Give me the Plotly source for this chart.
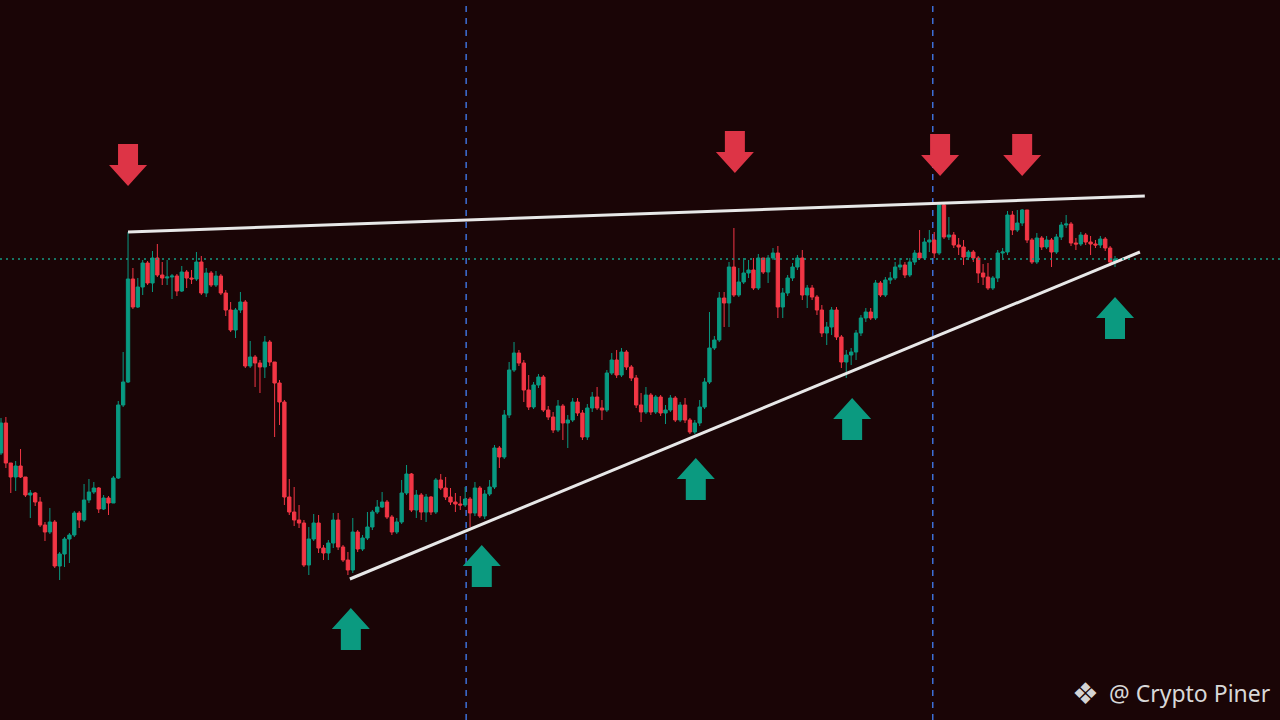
import plotly.graph_objects as go

# price units: arbitrary chart units (higher = up)
first_open = 267
closes = [
    297, 257, 243, 254, 243, 225, 227, 218, 195, 188,
    198, 154, 166, 181, 185, 207, 200, 220, 228, 232,
    211, 222, 217, 242, 315, 338, 441, 413, 433, 457,
    437, 462, 445, 442, 443, 444, 429, 448, 442, 441,
    458, 427, 447, 435, 444, 427, 410, 390, 410, 418,
    354, 363, 357, 353, 378, 358, 337, 318, 223, 208,
    200, 197, 155, 181, 197, 172, 167, 177, 200, 173,
    160, 150, 188, 171, 182, 193, 208, 213, 218, 203,
    188, 198, 227, 246, 210, 225, 208, 223, 208, 240,
    232, 223, 218, 216, 215, 221, 207, 232, 204, 226,
    233, 272, 263, 305, 350, 367, 357, 330, 313, 335,
    343, 310, 303, 290, 314, 297, 300, 318, 307, 283,
    312, 323, 312, 310, 347, 360, 345, 368, 353, 342,
    315, 308, 325, 308, 323, 307, 310, 322, 300, 315,
    300, 288, 297, 313, 338, 372, 380, 422, 417, 453,
    425, 438, 447, 450, 432, 462, 448, 462, 467, 413,
    427, 442, 453, 462, 425, 432, 423, 410, 387, 393,
    410, 383, 358, 365, 368, 387, 402, 408, 402, 437,
    425, 440, 442, 453, 455, 445, 458, 467, 462, 478,
    480, 467, 515, 483, 485, 475, 473, 463, 468, 462,
    447, 443, 432, 442, 467, 468, 505, 490, 497, 510,
    480, 458, 482, 473, 480, 468, 483, 495, 496, 477,
    476, 485, 478, 476, 475, 481, 472, 458, 461,
]
highs = [
    302, 303, 257, 259, 271, 243, 230, 228, 223, 198,
    212, 200, 168, 183, 187, 209, 209, 236, 241, 238,
    233, 225, 224, 244, 319, 368, 488, 452, 442, 460,
    459, 469, 476, 458, 460, 446, 446, 454, 450, 450,
    468, 464, 452, 449, 449, 446, 430, 418, 412, 428,
    420, 379, 365, 360, 384, 380, 357, 340, 320, 241,
    233, 215, 200, 193, 206, 205, 175, 180, 207, 207,
    175, 168, 202, 190, 185, 208, 210, 220, 228, 220,
    205, 202, 240, 255, 247, 230, 227, 226, 224, 242,
    246, 243, 232, 227, 224, 233, 223, 238, 234, 230,
    240, 275, 274, 310, 358, 378, 370, 360, 345, 338,
    346, 345, 314, 308, 320, 316, 305, 322, 322, 310,
    316, 328, 333, 320, 350, 367, 370, 372, 370, 355,
    345, 327, 333, 327, 325, 325, 315, 325, 324, 318,
    322, 302, 300, 320, 342, 408, 384, 428, 428, 458,
    492, 452, 462, 460, 462, 466, 462, 465, 472, 474,
    432, 445, 457, 465, 470, 435, 435, 425, 415, 398,
    413, 413, 385, 370, 372, 390, 405, 412, 412, 440,
    439, 443, 448, 458, 462, 458, 462, 470, 490, 482,
    490, 488, 517, 516, 503, 488, 482, 480, 470, 470,
    464, 456, 457, 444, 470, 472, 509, 509, 510, 511,
    510, 482, 487, 484, 484, 482, 486, 498, 505, 498,
    482, 488, 487, 484, 480, 484, 483, 474, 464,
]
lows = [
    265, 252, 227, 229, 242, 223, 202, 214, 193, 179,
    186, 152, 140, 153, 157, 183, 192, 198, 217, 226,
    207, 210, 205, 217, 241, 313, 337, 411, 412, 425,
    435, 428, 443, 435, 435, 421, 424, 428, 432, 436,
    439, 425, 423, 433, 433, 425, 404, 388, 382, 407,
    352, 352, 333, 327, 342, 354, 283, 295, 215, 205,
    194, 192, 153, 145, 179, 167, 160, 160, 172, 170,
    158, 145, 147, 168, 169, 180, 190, 206, 212, 201,
    185, 186, 196, 225, 208, 202, 200, 198, 205, 206,
    230, 220, 215, 208, 210, 213, 193, 204, 202, 201,
    224, 231, 252, 261, 302, 348, 354, 318, 310, 311,
    332, 308, 300, 287, 288, 280, 272, 298, 304, 280,
    280, 308, 310, 300, 308, 345, 342, 343, 350, 339,
    312, 298, 306, 305, 306, 304, 296, 308, 298, 298,
    297, 286, 286, 294, 311, 336, 370, 378, 393, 393,
    423, 423, 436, 442, 430, 430, 446, 437, 460, 402,
    402, 424, 439, 450, 420, 412, 420, 405, 383, 375,
    385, 380, 352, 342, 355, 360, 384, 398, 400, 400,
    423, 423, 436, 440, 450, 442, 443, 455, 460, 460,
    468, 462, 465, 481, 480, 472, 465, 455, 460, 458,
    437, 435, 430, 430, 438, 462, 465, 485, 488, 494,
    477, 456, 456, 470, 471, 453, 466, 480, 492, 474,
    470, 474, 475, 465, 472, 472, 469, 454, 453,
]
opens = [first_open] + closes[:-1]
candle_idx = list(range(len(closes)))

# trendlines (candle index, price)
resist_x = [26, 234.1]
resist_y = [488, 524]
support_x = [71.4, 233.1]
support_y = [141, 468]

level_price = 461
session_marks = [95.2, 190.7]

down_arrow_x = [26, 150.2, 192.2, 209]
down_arrow_tip = [534, 547, 544, 544]
up_arrow_x = [71.6, 98.4, 142.2, 174.2, 228]
up_arrow_tip = [112, 175, 262, 322, 423]

BG = '#1a0506'
GREEN = '#089981'
RED = '#f23645'
ARROW_RED = '#dd3446'
ARROW_GREEN = '#0b9a80'

PX = 4.886  # pixels per candle


def arrow(xc, tip, up):
    # block arrow: stem 20px wide, head 38px wide, ~42px tall
    s = 1 if up else -1
    hs, hh = 10 / PX, 19 / PX
    base = tip - s * 21
    end = tip - s * 42
    xs = [xc, xc + hh, xc + hs, xc + hs, xc - hs, xc - hs, xc - hh, xc]
    ys = [tip, base, base, end, end, base, base, tip]
    return xs, ys


fig = go.Figure()

fig.add_trace(go.Candlestick(
    x=candle_idx, open=opens, high=highs, low=lows, close=closes,
    increasing=dict(line=dict(color=GREEN, width=1), fillcolor=GREEN),
    decreasing=dict(line=dict(color=RED, width=1), fillcolor=RED),
    whiskerwidth=0, showlegend=False, hoverinfo='skip'
))

for xv in session_marks:
    fig.add_vline(x=xv, line=dict(color='#3d6fd6', width=1.5, dash='6px,6px'), layer='below')

fig.add_hline(y=level_price, line=dict(color='#169a84', width=1.3, dash='2px,4px'))

for tx, ty in [(resist_x, resist_y), (support_x, support_y)]:
    fig.add_trace(go.Scatter(
        x=tx, y=ty, mode='lines', line=dict(color='#e8e8e8', width=3),
        showlegend=False, hoverinfo='skip'
    ))

for xv, tv in zip(down_arrow_x, down_arrow_tip):
    ax, ay = arrow(xv, tv, up=False)
    fig.add_trace(go.Scatter(x=ax, y=ay, mode='lines', fill='toself', fillcolor=ARROW_RED,
                             line=dict(width=0, color=ARROW_RED), showlegend=False, hoverinfo='skip'))
for xv, tv in zip(up_arrow_x, up_arrow_tip):
    ax, ay = arrow(xv, tv, up=True)
    fig.add_trace(go.Scatter(x=ax, y=ay, mode='lines', fill='toself', fillcolor=ARROW_GREEN,
                             line=dict(width=0, color=ARROW_GREEN), showlegend=False, hoverinfo='skip'))

# watermark
fig.add_annotation(xref='paper', yref='paper', x=1085 / 1280, y=1 - 693 / 720,
                   text='❖', showarrow=False, xanchor='center', yanchor='middle',
                   font=dict(family='DejaVu Sans', size=30, color='#d4d4d4'))
fig.add_annotation(xref='paper', yref='paper', x=1273 / 1280, y=1 - 693 / 720,
                   text='@ Crypto Piner', showarrow=False, xanchor='right', yanchor='middle',
                   font=dict(family='Noto Sans', size=23, color='#d8d8d8'))

fig.update_layout(
    width=1280, height=720,
    margin=dict(l=0, r=0, t=0, b=0),
    paper_bgcolor=BG, plot_bgcolor=BG,
    boxgap=0.32, boxgroupgap=0,
    hovermode=False,
    xaxis=dict(range=[-1 / PX, 1279 / PX], visible=False, rangeslider=dict(visible=False),
               showgrid=False, zeroline=False),
    yaxis=dict(range=[0, 720], visible=False, showgrid=False, zeroline=False),
)

# remove the default page margin so the chart fills the window
fig.write_html("out.html", config={'displayModeBar': False},
               post_script="document.body.style.margin='0';document.body.style.overflow='hidden';")
